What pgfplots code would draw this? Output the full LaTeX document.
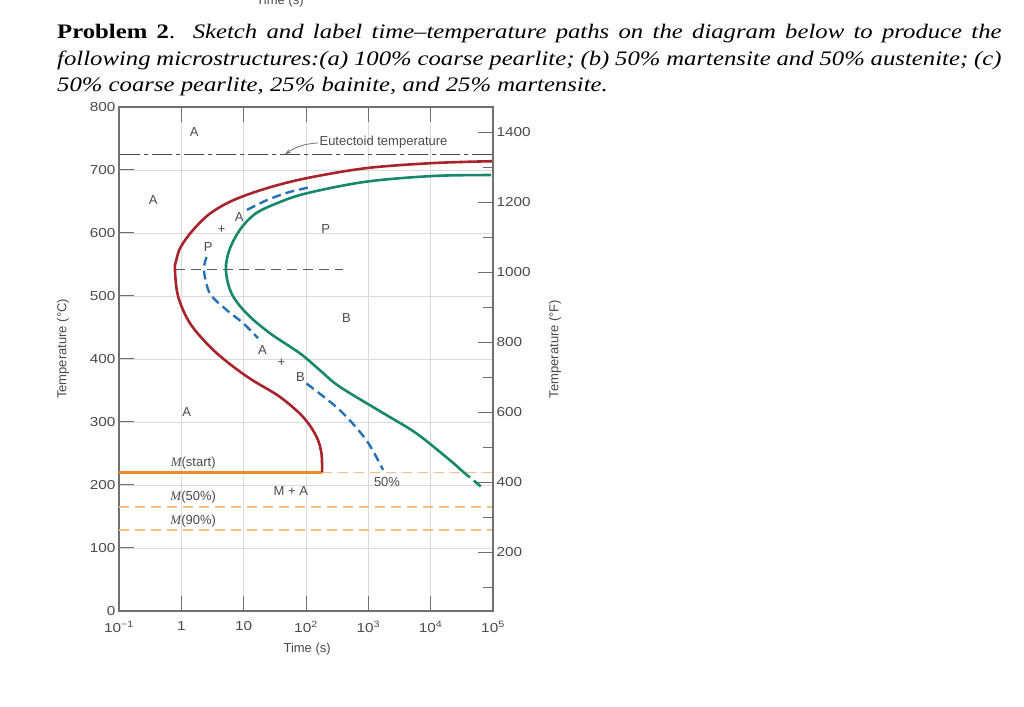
\documentclass[border=0pt]{standalone}
\usepackage{pgfplots}
\pgfplotsset{compat=1.18}
\usepackage{fontspec}
\setmainfont{Liberation Serif}
\setsansfont{Liberation Sans}
\newfontfamily\tickfont{Liberation Sans}[FakeStretch=1.18]
\usetikzlibrary{arrows.meta}

\definecolor{axisgray}{HTML}{707070}
\definecolor{gridgray}{HTML}{DADADA}
\definecolor{labelgray}{HTML}{4A4A4A}
\definecolor{ttred}{HTML}{A8232B}
\definecolor{ttgreen}{HTML}{17896A}
\definecolor{ttblue}{HTML}{2372B9}
\definecolor{msorange}{HTML}{EC8A2A}
\definecolor{lightorange}{HTML}{F4C083}

\tikzset{
  lbl/.style={font=\sffamily\fontsize{13}{15}\selectfont, text=labelgray},
  tlbl/.style={font=\tickfont\fontsize{13}{15}\selectfont, text=labelgray},
}

\begin{document}
\begin{tikzpicture}
\useasboundingbox (0pt,0pt) rectangle (1024pt,706pt);
\clip (0pt,0pt) rectangle (1024pt,706pt);

% cut-off label of the figure above
\node[lbl, anchor=base] at (280pt,701pt) {Time (s)};

% problem statement
\node[anchor=base west, inner sep=0pt] at (57pt,667pt) {\scalebox{1.2}[1]{\begin{minipage}[t]{787pt}
\fontsize{20.6}{26.2}\selectfont\hyphenpenalty=10000\noindent
\textbf{Problem 2}. \textit{Sketch and label time--temperature paths on the diagram below to produce the\linebreak
following microstructures:(a) 100\% coarse pearlite; (b) 50\% martensite and 50\% austenite; (c)\linebreak
50\% coarse pearlite, 25\% bainite, and 25\% martensite.}
\end{minipage}}};

\begin{axis}[
    at={(119pt,95pt)}, anchor=south west,
    scale only axis, width=374pt, height=504pt,
    xmode=log, xmin=0.1, xmax=100000, ymin=0, ymax=800,
    xtick={0.1,1,10,100,1000,10000,100000},
    xticklabels={10\textsuperscript{−1},1,10,10\textsuperscript{2},10\textsuperscript{3},10\textsuperscript{4},10\textsuperscript{5}},
    xminorticks=false,
    ytick={0,100,...,800},
    xtick pos=both, ytick pos=left,
    tick align=inside, major tick length=15pt,
    xmajorgrids, ymajorgrids,
    major grid style={gridgray, line width=0.9pt},
    axis line style={axisgray, line width=1.3pt},
    tick style={axisgray, line width=1pt},
    /pgf/number format/assume math mode=true,
    /pgf/number format/1000 sep={},
    tick label style={tlbl},
    xticklabel style={yshift=-7pt},
    label style={lbl},
    xlabel={Time (s)},
    xlabel style={at={(axis description cs:0.503,-0.075)}, anchor=center},
    ylabel={Temperature (°C)},
    ylabel style={at={(axis description cs:-0.150,0.52)}, anchor=center},
]
% martensite lines
\addplot[msorange, line width=2.6pt] coordinates {(0.1,220) (181,220)};
\addplot[lightorange, line width=1.6pt, dash pattern=on 10pt off 6pt] coordinates {(181,220) (100000,220)};
\addplot[lightorange, line width=1.6pt, dash pattern=on 10pt off 6pt] coordinates {(0.1,165) (100000,165)};
\addplot[lightorange, line width=1.6pt, dash pattern=on 10pt off 6pt] coordinates {(0.1,129) (100000,129)};

% eutectoid temperature
\addplot[black!70, line width=1pt, dash pattern=on 20pt off 4pt on 4pt off 4pt] coordinates {(0.105,725) (100000,725)};
% nose level
\addplot[black!65, line width=1pt, dash pattern=on 10pt off 6pt] coordinates {(0.79,542) (394,542)};

% start curve
\addplot[ttred, line width=2.6pt, smooth, tension=0.55] coordinates {
    (100000,714) (11000,711) (933,703) (102,687) (23.4,671) (6.8,652)
    (2.9,631) (1.55,605) (0.98,578) (0.83,557) (0.79,541) (0.89,499)
    (1.37,457) (2.87,419.5) (6.0,392) (13.5,367) (38,340) (89.7,308)
    (147,277) (177,250) (181,220)
};
% finish curve
\addplot[ttgreen, line width=2.6pt, smooth, tension=0.55] coordinates {
    (93000,692) (11000,690.5) (933,681.5) (102,663) (33.7,647) (15.1,630)
    (8.7,605) (5.9,573) (5.19,541) (6.4,504) (11.1,472.5) (26.3,441)
    (80,409) (166,382.5) (347,356) (1738,314) (5890,282) (20000,240) (33000,221)
};
\addplot[ttgreen, line width=2.6pt, dash pattern=on 9pt off 5pt] coordinates {(33000,221) (65000,197)};

% 50% curve
\addplot[ttblue, line width=2.4pt, dash pattern=on 9pt off 5pt, smooth] coordinates {
    (107,672) (50,664) (23.4,652) (11.2,636.5)
};
\addplot[ttblue, line width=2.4pt, dash pattern=on 9pt off 5pt, smooth] coordinates {
    (2.54,562) (2.30,541) (2.87,504) (5.3,478) (9.8,457) (17,433)
};
\addplot[ttblue, line width=2.4pt, dash pattern=on 9pt off 5pt, smooth] coordinates {
    (102,361) (348,319) (933,271) (1722,224)
};

% region labels
\node[lbl] at (axis cs:1.61,760) {A};
\node[lbl] at (axis cs:0.355,653) {A};
\node[lbl] at (axis cs:1.22,316) {A};
\node[lbl] at (axis cs:207,607) {P};
\node[lbl] at (axis cs:446,465) {B};
\node[lbl] at (axis cs:8.47,626) {A};
\node[lbl] at (axis cs:4.43,605) {+};
\node[lbl] at (axis cs:2.70,578) {P};
\node[lbl] at (axis cs:20.1,415) {A};
\node[lbl] at (axis cs:40.5,394) {+};
\node[lbl] at (axis cs:81.6,371) {B};
\node[lbl] at (axis cs:1995,205) {50\%};
\node[lbl] at (axis cs:57,191) {M + A};
\node[lbl] at (axis cs:1.55,235) {{\rmfamily\itshape M}(start)};
\node[lbl] at (axis cs:1.55,180) {{\rmfamily\itshape M}(50\%)};
\node[lbl] at (axis cs:1.55,143) {{\rmfamily\itshape M}(90\%)};
\node[lbl, anchor=west, inner sep=1pt] at (axis cs:158,745) {Eutectoid temperature};
\draw[axisgray, line width=0.8pt, -{Stealth[length=6pt,width=4pt]}] (axis cs:156,743) to[bend right=15] (axis cs:46,725);
\end{axis}

% Fahrenheit scale
\begin{axis}[
    at={(119pt,95pt)}, anchor=south west,
    scale only axis, width=374pt, height=504pt,
    xmode=log, xmin=0.1, xmax=100000, ymin=32, ymax=1472,
    hide x axis, axis y line*=right,
    ytick={200,400,...,1400},
    minor ytick={100,300,...,1300},
    tick align=inside, major tick length=15pt, minor tick length=10pt,
    axis line style={axisgray, line width=1.3pt},
    tick style={axisgray, line width=1pt},
    /pgf/number format/assume math mode=true,
    /pgf/number format/1000 sep={},
    tick label style={tlbl},
    label style={lbl},
    ylabel={Temperature (°F)},
    ylabel style={at={(axis description cs:1.166,0.52)}, anchor=center},
]
\end{axis}
\end{tikzpicture}
\end{document}
